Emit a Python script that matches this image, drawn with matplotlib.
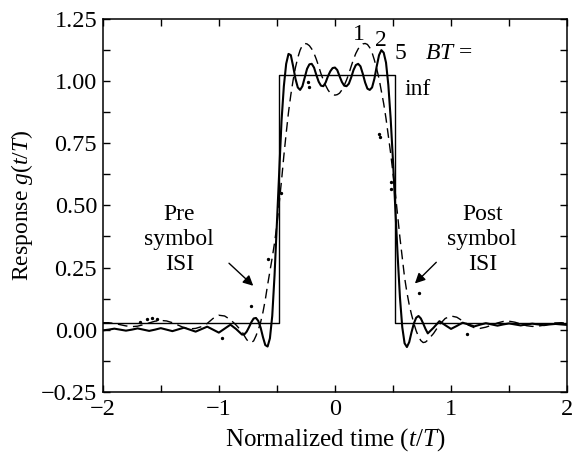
import matplotlib
matplotlib.use("Agg")
import matplotlib.pyplot as plt
import numpy as np
from matplotlib.ticker import FuncFormatter, MultipleLocator

plt.rcParams["font.family"] = ["Liberation Serif", "DejaVu Serif"]
plt.rcParams["mathtext.fontset"] = "custom"
plt.rcParams["mathtext.rm"] = "Liberation Serif"
plt.rcParams["mathtext.it"] = "Liberation Serif:italic"

# sample positions in t/T (coarse tails, fine middle)
t_left = np.linspace(-2.0, -0.8, 25)
t_mid = np.linspace(-0.78, 0.78, 79)
t_right = np.linspace(0.8, 2.0, 25)
t = np.concatenate([t_left, t_mid, t_right])

# BT = 5 (solid)
bt5_left = [-0.003, 0.000, 0.004, 0.000, -0.004, 0.000, 0.005, 0.000, -0.005, 0.000,
            0.006, 0.000, -0.006, 0.001, 0.008, 0.000, -0.008, 0.002, 0.012, 0.000,
            -0.012, 0.004, 0.020, 0.002, -0.020]
bt5_mid = [-0.019, -0.008, 0.010, 0.030, 0.045, 0.047, 0.035, 0.008, -0.030, -0.062,
           -0.068, -0.035, 0.055, 0.220, 0.430, 0.650, 0.840, 0.980, 1.070, 1.110,
           1.105, 1.060, 1.010, 0.975, 0.965, 0.980, 1.015, 1.050, 1.068, 1.070,
           1.055, 1.025, 0.998, 0.982, 0.980, 0.995, 1.020, 1.040, 1.053, 1.055,
           1.045, 1.020, 0.997, 0.982, 0.980, 0.990, 1.015, 1.045, 1.065, 1.070,
           1.060, 1.030, 0.995, 0.970, 0.965, 0.975, 1.010, 1.060, 1.105, 1.125,
           1.115, 1.075, 0.985, 0.850, 0.680, 0.490, 0.300, 0.130, 0.010, -0.055,
           -0.070, -0.050, -0.010, 0.025, 0.048, 0.055, 0.045, 0.025, 0.003]
bt5_right = [-0.015, 0.008, 0.034, 0.018, 0.003, 0.015, 0.028, 0.021, 0.013, 0.020,
             0.026, 0.021, 0.016, 0.021, 0.025, 0.021, 0.017, 0.021, 0.024, 0.021,
             0.018, 0.021, 0.023, 0.021, 0.019]

# BT = 2 (dashed)
bt2_left = [0.028, 0.028, 0.025, 0.020, 0.015, 0.012, 0.014, 0.020, 0.027, 0.034,
            0.037, 0.035, 0.028, 0.018, 0.008, 0.003, 0.005, 0.012, 0.025, 0.045,
            0.058, 0.055, 0.040, 0.018, -0.008]
bt2_mid = [-0.025, -0.040, -0.050, -0.052, -0.045, -0.025, 0.000, 0.030, 0.070, 0.120,
           0.180, 0.235, 0.290, 0.350, 0.420, 0.510, 0.600, 0.700, 0.790, 0.875,
           0.945, 1.005, 1.055, 1.095, 1.125, 1.145, 1.152, 1.150, 1.143, 1.130,
           1.112, 1.088, 1.060, 1.030, 1.005, 0.983, 0.965, 0.952, 0.946, 0.944,
           0.946, 0.952, 0.965, 0.983, 1.005, 1.030, 1.060, 1.088, 1.112, 1.130,
           1.143, 1.150, 1.152, 1.148, 1.135, 1.115, 1.085, 1.050, 1.010, 0.960,
           0.910, 0.850, 0.780, 0.710, 0.630, 0.550, 0.460, 0.370, 0.290, 0.210,
           0.150, 0.100, 0.060, 0.025, -0.005, -0.028, -0.044, -0.052, -0.050]
bt2_right = [-0.042, -0.015, 0.020, 0.045, 0.055, 0.050, 0.035, 0.018, 0.008, 0.005,
             0.010, 0.018, 0.027, 0.033, 0.034, 0.030, 0.023, 0.016, 0.013, 0.014,
             0.018, 0.023, 0.027, 0.028, 0.026]

bt5 = np.array(bt5_left + bt5_mid + bt5_right)
bt2 = np.array(bt2_left + bt2_mid + bt2_right)

# BT = 1 (dotted, only scattered dots survive in the figure)
bt1_t = [-1.68, -1.62, -1.58, -1.53, -0.97, -0.72, -0.58, -0.465, -0.228, -0.222,
         0.378, 0.384, 0.479, 0.485, 0.72, 1.14]
bt1_g = [0.032, 0.044, 0.048, 0.042, -0.035, 0.094, 0.286, 0.55, 0.997, 0.977,
         0.789, 0.776, 0.594, 0.568, 0.147, -0.017]

# BT = inf (ideal rectangular pulse)
rect_t = [-2.0, -0.48, -0.48, 0.52, 0.52, 2.0]
rect_g = [0.025, 0.025, 1.025, 1.025, 0.025, 0.025]

fig = plt.figure(figsize=(5.74, 4.55), dpi=100)
ax = fig.add_axes([0.179, 0.139, 0.809, 0.819])

ax.plot(rect_t, rect_g, color="black", lw=1.0)
ax.plot(t, bt2, color="black", lw=1.0, ls=(0, (7, 4)))
ax.plot(t, bt5, color="black", lw=1.5)
ax.plot(bt1_t, bt1_g, ls="none", marker="o", ms=1.4, color="black")

ax.set_xlim(-2, 2)
ax.set_ylim(-0.25, 1.25)
ax.xaxis.set_major_locator(MultipleLocator(1))
ax.xaxis.set_minor_locator(MultipleLocator(0.5))
ax.yaxis.set_major_locator(MultipleLocator(0.25))
ax.yaxis.set_minor_locator(MultipleLocator(0.125))
ax.xaxis.set_major_formatter(FuncFormatter(lambda v, p: f"{v:.0f}".replace("-", "\u2212")))
ax.yaxis.set_major_formatter(FuncFormatter(lambda v, p: f"{v:.2f}".replace("-", "\u2212")))
ax.tick_params(which="both", direction="in", top=True, right=True, length=5, width=1)
ax.tick_params(axis="y", labelsize=17.5, pad=4)
ax.tick_params(axis="x", labelsize=17.5, pad=5)
for s in ax.spines.values():
    s.set_linewidth(1.1)

ax.set_xlabel("Normalized time ($t$/$T$)", fontsize=18, labelpad=5)
ax.set_ylabel("Response $g$($t$/$T$)", fontsize=17, labelpad=4)

txt = dict(fontsize=17, ha="center", va="center", linespacing=1.25)
ax.text(-1.34, 0.362, "Pre\nsymbol\nISI", **txt)
ax.text(1.27, 0.362, "Post\nsymbol\nISI", **txt)
arrow = dict(arrowstyle="-|>", color="black", lw=1.0, mutation_scale=15)
ax.annotate("", xy=(-0.686, 0.169), xytext=(-0.93, 0.275), arrowprops=arrow)
ax.annotate("", xy=(0.672, 0.178), xytext=(0.89, 0.279), arrowprops=arrow)

ax.text(0.21, 1.19, "1", fontsize=17, ha="center", va="center")
ax.text(0.40, 1.165, "2", fontsize=17, ha="center", va="center")
ax.text(0.562, 1.11, "5", fontsize=17, ha="center", va="center")
ax.text(0.78, 1.11, "$BT$ =", fontsize=17, ha="left", va="center")
ax.text(0.60, 0.965, "inf", fontsize=17, ha="left", va="center")

fig.savefig("out.png", dpi=100)
